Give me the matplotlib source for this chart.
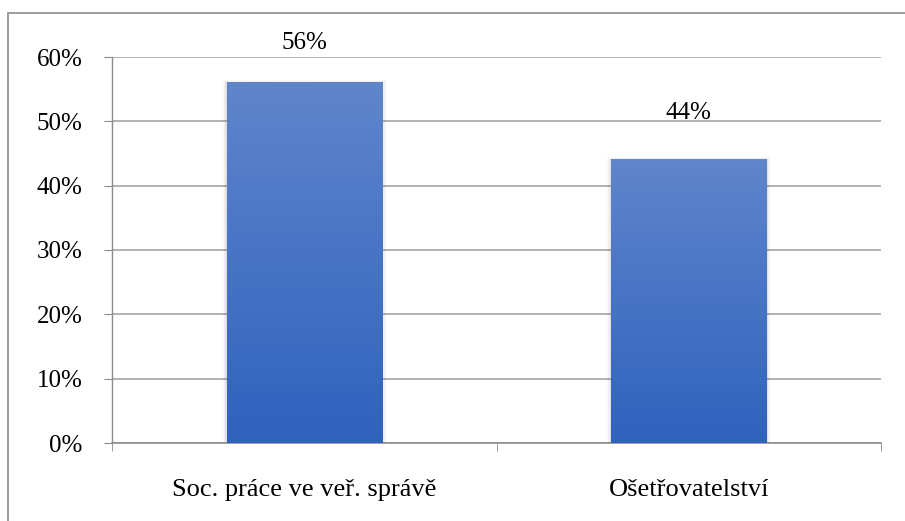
import numpy as np
import matplotlib
matplotlib.use("Agg")
import matplotlib.pyplot as plt
from matplotlib.patches import Rectangle
from matplotlib.colors import LinearSegmentedColormap

# data
categories = ["Soc. práce ve veř. správě", "Ošetřovatelství"]
values = [56, 44]
yticks = [0, 10, 20, 30, 40, 50, 60]
ytick_labels = [f"{v}%" for v in yticks]

plt.rcParams['font.family'] = ['Liberation Serif', 'DejaVu Serif']

fig = plt.figure(figsize=(9.05, 5.21), dpi=100)
ax = fig.add_axes([112 / 905, 1 - 443 / 521, 769 / 905, 386 / 521])

# outer chart frame (cropped at right and bottom)
fig.patches.append(Rectangle((8 / 905, -0.05), 1.2, 1 - 13 / 521 + 0.05,
                             transform=fig.transFigure, fill=False,
                             edgecolor='#8c8c8c', linewidth=1.2, zorder=0))

x = np.arange(len(categories))
bars = ax.bar(x, values, width=0.404, color='none', zorder=3)

cmap = LinearSegmentedColormap.from_list('bar', ['#2f62be', '#6085cb'])
grad = np.linspace(0, 1, 256).reshape(-1, 1)
for b in bars:
    x0, w, h = b.get_x(), b.get_width(), b.get_height()
    # soft shadow
    for k, a in enumerate([0.06, 0.04, 0.02]):
        ax.add_patch(Rectangle((x0 - 0.004 * (k + 1), 0), w + 0.008 * (k + 1), h + 0.15 * (k + 1),
                               facecolor='black', alpha=a, edgecolor='none', zorder=2))
    ax.imshow(grad, extent=[x0, x0 + w, 0, h], origin='lower', cmap=cmap,
              aspect='auto', zorder=3)

label_offsets = [21, 26]
for xi, v, off in zip(x, values, label_offsets):
    ax.annotate(f"{v}%", (xi, v), xytext=(0, off), textcoords='offset points',
                ha='center', va='bottom', fontsize=18)

ax.set_xlim(-0.5, 1.5)
ax.set_ylim(0, 60)
ax.set_yticks(yticks)
ax.set_yticklabels(ytick_labels, fontsize=18)
ax.set_xticks(x)
ax.set_xticklabels(categories, fontsize=19)
ax.set_xticks([-0.5, 0.5, 1.5], minor=True)

ax.grid(axis='y', color='#a6a6a6', linewidth=1.2, zorder=1)
ax.set_axisbelow(True)
for s in ['top', 'right']:
    ax.spines[s].set_visible(False)
ax.spines['left'].set_color('#8c8c8c')
ax.spines['bottom'].set_color('#8c8c8c')
ax.spines['left'].set_linewidth(1.0)
ax.spines['bottom'].set_linewidth(1.2)

ax.tick_params(axis='y', length=6, color='#8c8c8c', pad=15)
ax.tick_params(axis='x', which='major', length=0, pad=26)
ax.tick_params(axis='x', which='minor', length=6, color='#8c8c8c')

fig.savefig("out.png", dpi=100)
